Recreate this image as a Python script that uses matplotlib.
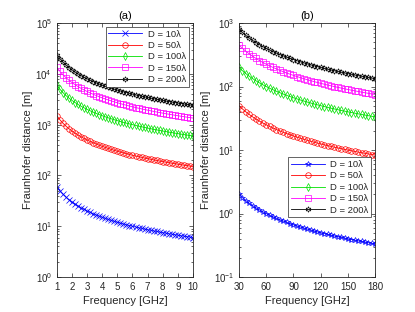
import matplotlib
matplotlib.use("Agg")
import matplotlib.pyplot as plt
from matplotlib.ticker import LogLocator, NullFormatter

# ---------------- data: panel (a), 1-10 GHz ----------------
freq_a = [1.0, 1.2, 1.4, 1.6, 1.8, 2.0, 2.2, 2.4, 2.6, 2.8, 3.0, 3.2, 3.4, 3.6, 3.8,
          4.0, 4.2, 4.4, 4.6, 4.8, 5.0, 5.2, 5.4, 5.6, 5.8, 6.0, 6.2, 6.4, 6.6, 6.8,
          7.0, 7.2, 7.4, 7.6, 7.8, 8.0, 8.2, 8.4, 8.6, 8.8, 9.0, 9.2, 9.4, 9.6, 9.8, 10.0]
a_d10 = [60, 50, 42.857, 37.5, 33.333, 30, 27.273, 25, 23.077, 21.429, 20, 18.75, 17.647,
         16.667, 15.789, 15, 14.286, 13.636, 13.043, 12.5, 12, 11.538, 11.111, 10.714,
         10.345, 10, 9.677, 9.375, 9.091, 8.824, 8.571, 8.333, 8.108, 7.895, 7.692, 7.5,
         7.317, 7.143, 6.977, 6.818, 6.667, 6.522, 6.383, 6.25, 6.122, 6]
a_d50 = [1500, 1250, 1071.4, 937.5, 833.3, 750, 681.8, 625, 576.9, 535.7, 500, 468.75,
         441.2, 416.7, 394.7, 375, 357.1, 340.9, 326.1, 312.5, 300, 288.5, 277.8, 267.9,
         258.6, 250, 241.9, 234.4, 227.3, 220.6, 214.3, 208.3, 202.7, 197.4, 192.3, 187.5,
         182.9, 178.6, 174.4, 170.5, 166.7, 163.0, 159.6, 156.25, 153.1, 150]
a_d100 = [6000, 5000, 4285.7, 3750, 3333.3, 3000, 2727.3, 2500, 2307.7, 2142.9, 2000, 1875,
          1764.7, 1666.7, 1578.9, 1500, 1428.6, 1363.6, 1304.3, 1250, 1200, 1153.8, 1111.1,
          1071.4, 1034.5, 1000, 967.7, 937.5, 909.1, 882.4, 857.1, 833.3, 810.8, 789.5,
          769.2, 750, 731.7, 714.3, 697.7, 681.8, 666.7, 652.2, 638.3, 625, 612.2, 600]
a_d150 = [13500, 11250, 9642.9, 8437.5, 7500, 6750, 6136.4, 5625, 5192.3, 4821.4, 4500,
          4218.75, 3970.6, 3750, 3552.6, 3375, 3214.3, 3068.2, 2934.8, 2812.5, 2700, 2596.2,
          2500, 2410.7, 2327.6, 2250, 2177.4, 2109.4, 2045.5, 1985.3, 1928.6, 1875, 1824.3,
          1776.3, 1730.8, 1687.5, 1646.3, 1607.1, 1569.8, 1534.1, 1500, 1467.4, 1436.2,
          1406.25, 1377.6, 1350]
a_d200 = [24000, 20000, 17142.9, 15000, 13333.3, 12000, 10909.1, 10000, 9230.8, 8571.4, 8000,
          7500, 7058.8, 6666.7, 6315.8, 6000, 5714.3, 5454.5, 5217.4, 5000, 4800, 4615.4,
          4444.4, 4285.7, 4137.9, 4000, 3871.0, 3750, 3636.4, 3529.4, 3428.6, 3333.3, 3243.2,
          3157.9, 3076.9, 3000, 2926.8, 2857.1, 2790.7, 2727.3, 2666.7, 2608.7, 2553.2, 2500,
          2449.0, 2400]

# ---------------- data: panel (b), 30-180 GHz ----------------
freq_b = [30, 33.75, 37.5, 41.25, 45, 48.75, 52.5, 56.25, 60, 63.75, 67.5, 71.25, 75, 78.75,
          82.5, 86.25, 90, 93.75, 97.5, 101.25, 105, 108.75, 112.5, 116.25, 120, 123.75,
          127.5, 131.25, 135, 138.75, 142.5, 146.25, 150, 153.75, 157.5, 161.25, 165, 168.75,
          172.5, 176.25, 180]
b_d10 = [2, 1.7778, 1.6, 1.4545, 1.3333, 1.2308, 1.1429, 1.0667, 1, 0.9412, 0.8889, 0.8421,
         0.8, 0.7619, 0.7273, 0.6957, 0.6667, 0.64, 0.6154, 0.5926, 0.5714, 0.5517, 0.5333,
         0.5161, 0.5, 0.4848, 0.4706, 0.4571, 0.4444, 0.4324, 0.4211, 0.4103, 0.4, 0.3902,
         0.381, 0.3721, 0.3636, 0.3556, 0.3478, 0.3404, 0.3333]
b_d50 = [50, 44.44, 40, 36.36, 33.33, 30.77, 28.57, 26.67, 25, 23.53, 22.22, 21.05, 20, 19.05,
         18.18, 17.39, 16.67, 16, 15.38, 14.81, 14.29, 13.79, 13.33, 12.90, 12.5, 12.12, 11.76,
         11.43, 11.11, 10.81, 10.53, 10.26, 10, 9.756, 9.524, 9.302, 9.091, 8.889, 8.696,
         8.511, 8.333]
b_d100 = [200, 177.8, 160, 145.5, 133.3, 123.1, 114.3, 106.7, 100, 94.12, 88.89, 84.21, 80,
          76.19, 72.73, 69.57, 66.67, 64, 61.54, 59.26, 57.14, 55.17, 53.33, 51.61, 50, 48.48,
          47.06, 45.71, 44.44, 43.24, 42.11, 41.03, 40, 39.02, 38.10, 37.21, 36.36, 35.56,
          34.78, 34.04, 33.33]
b_d150 = [450, 400, 360, 327.3, 300, 276.9, 257.1, 240, 225, 211.8, 200, 189.5, 180, 171.4,
          163.6, 156.5, 150, 144, 138.5, 133.3, 128.6, 124.1, 120, 116.1, 112.5, 109.1, 105.9,
          102.9, 100, 97.30, 94.74, 92.31, 90, 87.80, 85.71, 83.72, 81.82, 80, 78.26, 76.60, 75]
b_d200 = [800, 711.1, 640, 581.8, 533.3, 492.3, 457.1, 426.7, 400, 376.5, 355.6, 336.8, 320,
          304.8, 290.9, 278.3, 266.7, 256, 246.2, 237.0, 228.6, 220.7, 213.3, 206.5, 200, 193.9,
          188.2, 182.9, 177.8, 173.0, 168.4, 164.1, 160, 156.1, 152.4, 148.8, 145.5, 142.2,
          139.1, 136.2, 133.3]

labels = ["D = 10\u03bb", "D = 50\u03bb", "D = 100\u03bb", "D = 150\u03bb", "D = 200\u03bb"]
xticks_a = [1, 2, 3, 4, 5, 6, 7, 8, 9, 10]
xticks_b = [30, 60, 90, 120, 150, 180]

colors = ["#0000ff", "#ff0000", "#00e000", "#ff00ff", "#000000"]
hexagram = (6, 1, 0)

TXT = "#262626"
plt.rcParams["font.family"] = ["Liberation Sans", "DejaVu Sans"]

fig = plt.figure(figsize=(4.15, 3.12), dpi=100)
ax_a = fig.add_axes([0.137, 0.112, 0.328, 0.814])
ax_b = fig.add_axes([0.576, 0.112, 0.328, 0.814])


def style(ax, title, ylim, xlim, xticks):
    ax.set_yscale("log")
    ax.set_ylim(*ylim)
    ax.set_xlim(*xlim)
    ax.set_xticks(xticks)
    ax.set_xticklabels([str(t) for t in xticks])
    ax.yaxis.set_major_locator(LogLocator(base=10, numticks=10))
    ax.yaxis.set_minor_locator(LogLocator(base=10, subs=range(2, 10), numticks=20))
    ax.yaxis.set_minor_formatter(NullFormatter())
    ax.tick_params(which="both", direction="in", top=True, right=True, colors=TXT,
                   labelsize=7, width=0.5)
    ax.tick_params(which="major", length=3)
    ax.tick_params(which="minor", length=1.6)
    for s in ax.spines.values():
        s.set_linewidth(0.6)
        s.set_color(TXT)
    ax.set_title(title, fontsize=8, color="#000000", pad=3)
    ax.set_xlabel("Frequency [GHz]", fontsize=8, color=TXT, labelpad=3)
    ax.set_ylabel("Fraunhofer distance [m]", fontsize=8, color=TXT, labelpad=2)


markers_a = ["x", "o", "d", "s", hexagram]
markers_b = ["*", "o", "d", "s", hexagram]
series_a = [a_d10, a_d50, a_d100, a_d150, a_d200]
series_b = [b_d10, b_d50, b_d100, b_d150, b_d200]

for ys, c, m, lab in zip(series_a, colors, markers_a, labels):
    ax_a.plot(freq_a, ys, color=c, marker=m, markersize=4, markerfacecolor="none",
              markeredgewidth=0.5, linewidth=0.6, label=lab)
for ys, c, m, lab in zip(series_b, colors, markers_b, labels):
    ax_b.plot(freq_b, ys, color=c, marker=m, markersize=4, markerfacecolor="none",
              markeredgewidth=0.5, linewidth=0.6, label=lab)

style(ax_a, "(a)", (1, 1e5), (1, 10), xticks_a)
style(ax_b, "(b)", (0.1, 1e3), (30, 180), xticks_b)

for ax, loc in ((ax_a, "upper right"), (ax_b, "lower right")):
    leg = ax.legend(loc=loc, fontsize=6.8, frameon=True, fancybox=False,
                    edgecolor=TXT, handlelength=3.6, borderpad=0.3, labelspacing=0.25,
                    handletextpad=0.6, borderaxespad=0.4, framealpha=1,
                    bbox_to_anchor=(1.0, 1.0) if loc == "upper right" else (1.0, 0.22))
    leg.get_frame().set_linewidth(0.5)
    for t in leg.get_texts():
        t.set_color(TXT)

fig.savefig("out.png", dpi=100)
